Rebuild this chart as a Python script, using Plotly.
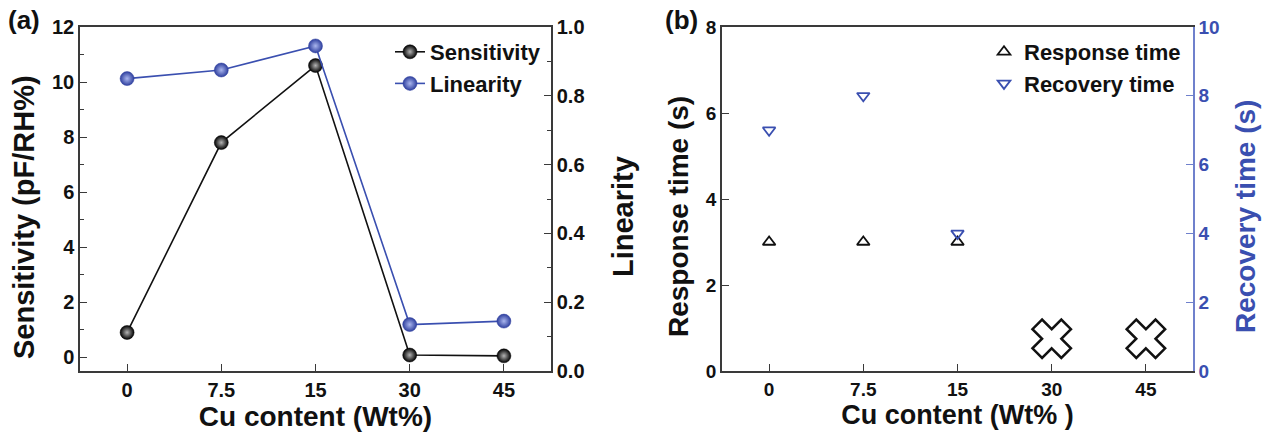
import plotly.graph_objects as go

# Cu content levels (categorical x axis)
categories = ["0", "7.5", "15", "30", "45"]

# Panel (a): sensor sensitivity and linearity
sensitivity = [0.9, 7.8, 10.6, 0.08, 0.05]        # pF/RH%
linearity = [0.85, 0.875, 0.945, 0.135, 0.145]

# Panel (b): response / recovery times for the measurable samples
timed_categories = ["0", "7.5", "15"]
response_time = [3.0, 3.0, 3.0]                   # s
recovery_time = [7.0, 8.0, 4.0]                   # s

# Samples with no measurable response, flagged with a cross
failed_categories = ["30", "45"]
failed_marker_level = [0.75, 0.75]

FONT = "Liberation Sans, Arial, sans-serif"
BLACK = "#111111"
AXIS = "#3a3a3a"
BLUE = "#3a4fb0"
BLUE_AXIS = "#6f80cc"

W, H = 1265, 433


def px_x(p):
    return p / W


def px_y(p):
    return 1 - p / H


Y_DOMAIN = [px_y(371), px_y(27)]

fig = go.Figure()

# ---- panel (a) ----
fig.add_trace(go.Scatter(
    x=categories, y=sensitivity, name="Sensitivity",
    mode="lines+markers", xaxis="x", yaxis="y", legend="legend",
    line=dict(color=BLACK, width=1.6),
    marker=dict(size=14, color="#000000",
                gradient=dict(type="radial", color="#b4b4b4"),
                line=dict(color="#000000", width=0.5)),
))
fig.add_trace(go.Scatter(
    x=categories, y=linearity, name="Linearity",
    mode="lines+markers", xaxis="x", yaxis="y2", legend="legend",
    line=dict(color=BLUE, width=1.6),
    marker=dict(size=14, color="#2e3f9e",
                gradient=dict(type="radial", color="#aab6ee"),
                line=dict(color="#2e3f9e", width=0.5)),
))

# ---- panel (b) ----
fig.add_trace(go.Scatter(
    x=timed_categories, y=response_time, name="Response time",
    mode="markers", xaxis="x2", yaxis="y3", legend="legend2",
    marker=dict(symbol="triangle-up-open", size=11, color=BLACK,
                line=dict(width=1.8)),
))
fig.add_trace(go.Scatter(
    x=timed_categories, y=recovery_time, name="Recovery time",
    mode="markers", xaxis="x2", yaxis="y4", legend="legend2",
    marker=dict(symbol="triangle-down-open", size=11, color=BLUE,
                line=dict(width=1.8)),
))
fig.add_trace(go.Scatter(
    x=failed_categories, y=failed_marker_level, showlegend=False,
    mode="markers", xaxis="x2", yaxis="y3",
    marker=dict(symbol="x", size=34, color="white",
                line=dict(color=BLACK, width=2.5)),
))

tick_font = dict(family=FONT, size=20, color=BLACK, weight="bold")
title_font = dict(family=FONT, size=28, color=BLACK, weight="bold")

common_x = dict(
    type="category", categoryorder="array", categoryarray=categories,
    range=[-0.5, 4.5], showline=True, linecolor=AXIS, linewidth=1.5,
    mirror=True, ticks="inside", ticklen=7, tickwidth=1.3, tickcolor=AXIS,
    tickfont=tick_font, showgrid=False, zeroline=False, automargin=False,
)

common_y = dict(
    showline=True, linewidth=1.5, ticks="inside", ticklen=7, tickwidth=1.3,
    showgrid=False, zeroline=False, automargin=False,
)


def y_title(text, x, size, color=BLACK):
    # rotated axis title placed beside its axis
    return dict(text=text, x=px_x(x), y=px_y(217), xref="paper", yref="paper",
                xanchor="center", yanchor="middle", textangle=-90,
                showarrow=False,
                font=dict(family=FONT, size=size, color=color, weight="bold"))


fig.update_layout(
    width=W, height=H,
    margin=dict(l=0, r=0, t=0, b=0, autoexpand=False),
    paper_bgcolor="white", plot_bgcolor="white",
    xaxis=dict(common_x, domain=[px_x(80), px_x(551)], anchor="y",
               title=dict(text="Cu content (Wt%)", font=title_font, standoff=4)),
    yaxis=dict(
        common_y, domain=Y_DOMAIN, anchor="x", range=[-0.5, 12], dtick=2, tick0=0,
        linecolor=AXIS, tickcolor=AXIS,
        minor=dict(dtick=1, tick0=0, ticks="inside", ticklen=4, tickcolor=AXIS),
        tickfont=tick_font,
    ),
    yaxis2=dict(
        common_y, overlaying="y", anchor="x", side="right", range=[0, 1],
        dtick=0.2, tickformat=".1f", linecolor=AXIS, tickcolor=AXIS,
        minor=dict(dtick=0.1, ticks="inside", ticklen=4, tickcolor=AXIS),
        tickfont=tick_font,
    ),
    xaxis2=dict(common_x, domain=[px_x(722), px_x(1193)], anchor="y3",
                tickfont=dict(tick_font, size=19),
                title=dict(text="Cu content (Wt% )", font=dict(title_font, size=27),
                           standoff=4)),
    yaxis3=dict(
        common_y, domain=Y_DOMAIN, anchor="x2", range=[0, 8], dtick=2,
        linecolor=AXIS, tickcolor=AXIS, tickfont=dict(tick_font, size=19),
    ),
    yaxis4=dict(
        common_y, overlaying="y3", anchor="x2", side="right", range=[0, 10],
        dtick=2, linecolor=BLUE_AXIS, tickcolor=BLUE_AXIS,
        tickfont=dict(tick_font, size=19, color=BLUE),
    ),
    legend=dict(
        x=px_x(390), y=px_y(31), xanchor="left", yanchor="top",
        bgcolor="rgba(0,0,0,0)", borderwidth=0,
        font=dict(family=FONT, size=22, color=BLACK, weight="bold"),
        tracegroupgap=0,
    ),
    legend2=dict(
        x=px_x(984), y=px_y(31), xanchor="left", yanchor="top",
        bgcolor="rgba(0,0,0,0)", borderwidth=0,
        font=dict(family=FONT, size=22, color=BLACK, weight="bold"),
        tracegroupgap=0,
    ),
    annotations=[
        dict(text="(a)", x=px_x(6), y=px_y(20), xref="paper", yref="paper",
             xanchor="left", yanchor="middle", showarrow=False,
             font=dict(family=FONT, size=26, color=BLACK, weight="bold")),
        dict(text="(b)", x=px_x(663), y=px_y(20), xref="paper", yref="paper",
             xanchor="left", yanchor="middle", showarrow=False,
             font=dict(family=FONT, size=26, color=BLACK, weight="bold")),
        y_title("Sensitivity (pF/RH%)", 24, 29),
        y_title("Linearity", 623, 29),
        y_title("Response time (s)", 678, 28),
        y_title("Recovery time (s)", 1245, 28, BLUE),
    ],
)

fig.write_html("out.html")
